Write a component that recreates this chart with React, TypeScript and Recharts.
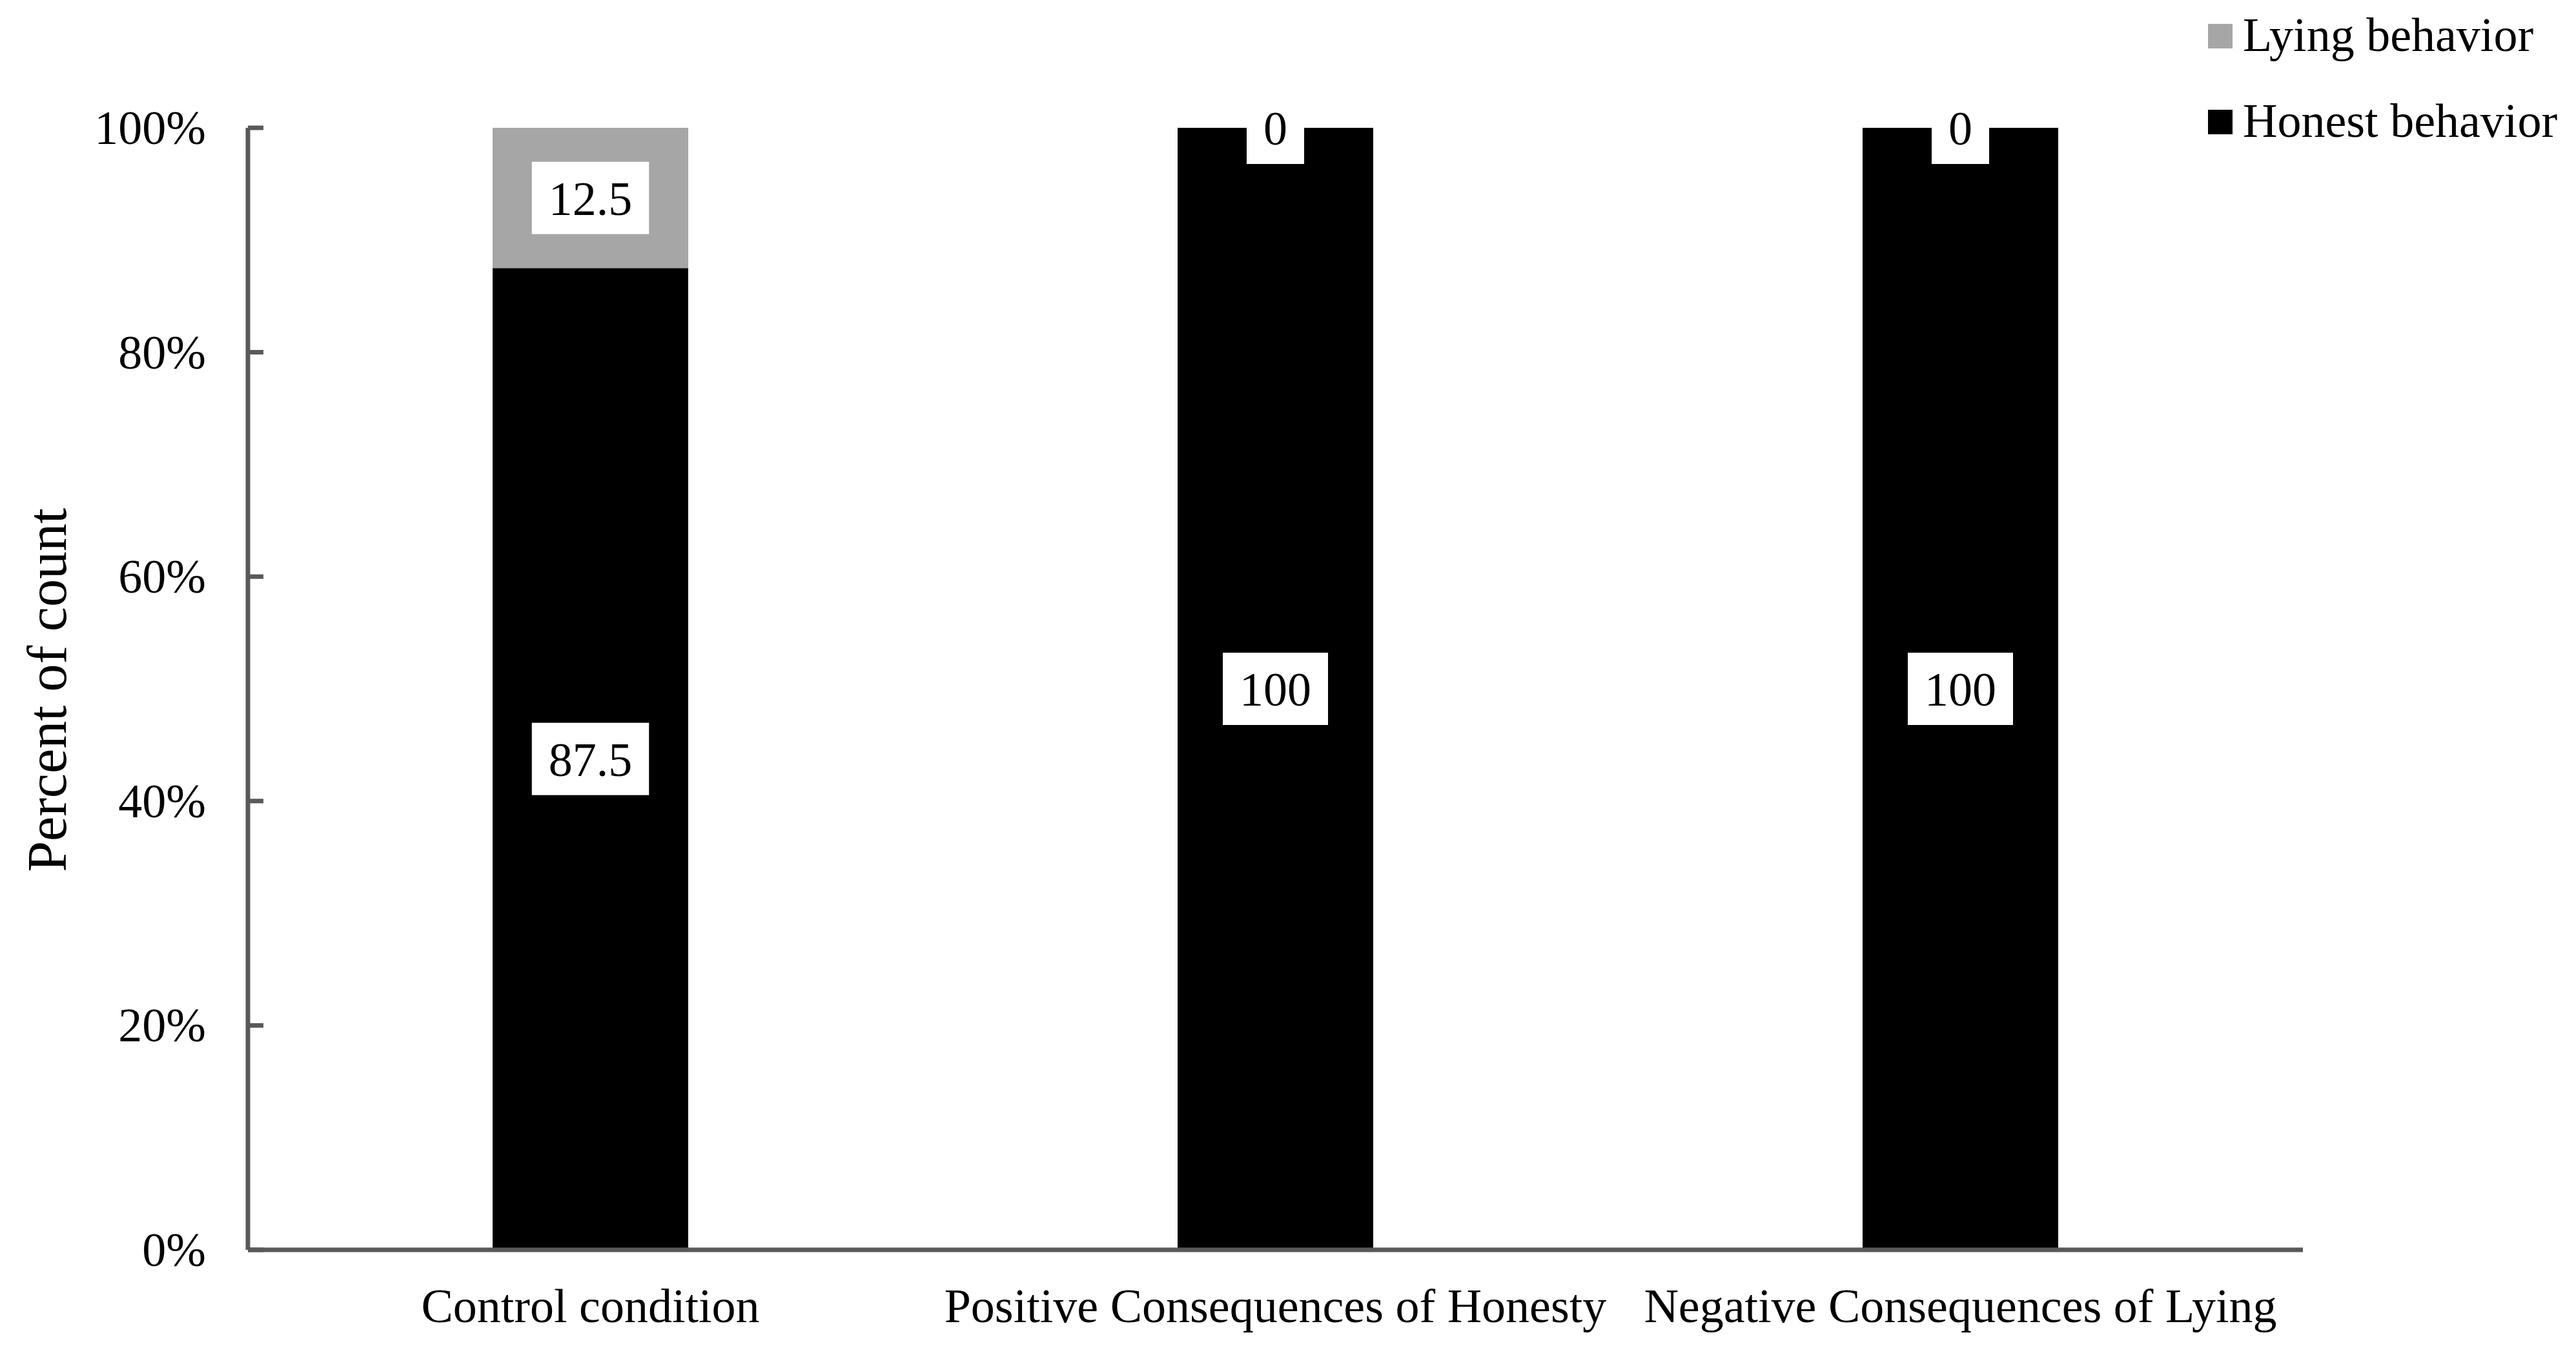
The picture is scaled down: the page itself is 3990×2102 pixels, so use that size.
import React from 'react';
import { BarChart, Bar, XAxis, YAxis, LabelList, Legend } from 'recharts';

const categories = [
  'Control condition',
  'Positive Consequences of Honesty',
  'Negative Consequences of Lying',
];
const honestValues = [87.5, 100, 100];
const lyingValues = [12.5, 0, 0];
const yTicks = [0, 20, 40, 60, 80, 100];

const seriesNames = { honest: 'Honest behavior', lying: 'Lying behavior' };
const colors = { honest: '#000000', lying: '#A6A6A6', axis: '#595959' };

const FONT = "'Liberation Serif', 'Times New Roman', Times, serif";
const FS = 74;

const data = categories.map((name, i) => ({
  name,
  honest: honestValues[i],
  lying: lyingValues[i],
}));

// rough Times advance widths, used to size the white label boxes
const textWidth = (s: string) =>
  s.split('').reduce((w, c) => w + (c === '.' ? 0.25 : 0.5), 0) * FS;

const drawBox = (cx: number, cy: number, txt: string) => {
  const w = textWidth(txt) + 52;
  const h = 112;
  return (
    <g>
      <rect x={cx - w / 2} y={cy - h / 2} width={w} height={h} fill="#ffffff" />
      <text x={cx} y={cy} dy={26} textAnchor="middle" fontFamily={FONT} fontSize={FS} fill="#000">
        {txt}
      </text>
    </g>
  );
};

// label centred in a segment
const BoxLabel = (props: any) => {
  const { x, y, width, height, value } = props;
  if (!value) return null;
  return drawBox(x + width / 2, y + height / 2, String(value));
};

// zero-height lying segments sit on top of the honest bar; recharts won't
// label an empty rect, so the honest bar carries that label at its top edge
const ZeroTopLabel = (props: any) => {
  const { x, y, width, value } = props;
  if (value !== 0) return null;
  return drawBox(x + width / 2, y, '0');
};

const YTick = (props: any) => {
  const { x, y, payload } = props;
  return (
    <text x={x} y={y} dy={25} textAnchor="end" fontFamily={FONT} fontSize={FS} fill="#000">
      {`${payload.value}%`}
    </text>
  );
};

const XTick = (props: any) => {
  const { x, y, payload } = props;
  return (
    <text x={x} y={y} dy={112} textAnchor="middle" fontFamily={FONT} fontSize={FS} fill="#000">
      {payload.value}
    </text>
  );
};

const YTitle = (props: any) => {
  const { viewBox } = props;
  const x = viewBox.x + 102;
  const y = viewBox.y + viewBox.height / 2 + 2;
  return (
    <text
      x={x}
      y={y}
      transform={`rotate(-90, ${x}, ${y})`}
      textAnchor="middle"
      fontFamily={FONT}
      fontSize={86}
      fill="#000"
    >
      Percent of count
    </text>
  );
};

const LegendBox = () => {
  const rows = [
    { name: seriesNames.lying, color: colors.lying, top: 37 },
    { name: seriesNames.honest, color: colors.honest, top: 170 },
  ];
  return (
    <svg width={570} height={240} style={{ display: 'block' }}>
      {rows.map((r) => (
        <g key={r.name}>
          <rect x={0} y={r.top} width={38} height={38} fill={r.color} />
          <text x={54} y={r.top + 42} fontFamily={FONT} fontSize={FS} fill="#000">
            {r.name}
          </text>
        </g>
      ))}
    </svg>
  );
};

export default function App() {
  return (
    <div style={{ position: 'absolute', left: 0, top: 0, width: 3990, height: 2102, background: '#fff' }}>
      <BarChart
        width={3990}
        height={2102}
        data={data}
        margin={{ top: 198, right: 423, bottom: 6, left: 0 }}
      >
        <XAxis
          dataKey="name"
          height={160}
          axisLine={{ stroke: colors.axis, strokeWidth: 7 }}
          tickLine={false}
          tickSize={0}
          tickMargin={0}
          tick={<XTick />}
          interval={0}
        />
        <YAxis
          width={384}
          domain={[0, 100]}
          ticks={yTicks}
          axisLine={{ stroke: colors.axis, strokeWidth: 7 }}
          tickLine={{ stroke: colors.axis, strokeWidth: 7 }}
          tickSize={-24}
          tickMargin={89}
          tick={<YTick />}
          label={{ content: <YTitle /> }}
        />
        <Legend
          layout="vertical"
          align="center"
          verticalAlign="middle"
          content={<LegendBox />}
          wrapperStyle={{ position: 'absolute', left: 3420, top: 0, width: 570, height: 240 }}
        />
        <Bar dataKey="honest" name={seriesNames.honest} stackId="a" fill={colors.honest} barSize={303} isAnimationActive={false}>
          <LabelList dataKey="honest" content={<BoxLabel />} />
          <LabelList dataKey="lying" content={<ZeroTopLabel />} />
        </Bar>
        <Bar dataKey="lying" name={seriesNames.lying} stackId="a" fill={colors.lying} barSize={303} isAnimationActive={false}>
          <LabelList dataKey="lying" content={<BoxLabel />} />
        </Bar>
      </BarChart>
    </div>
  );
}
